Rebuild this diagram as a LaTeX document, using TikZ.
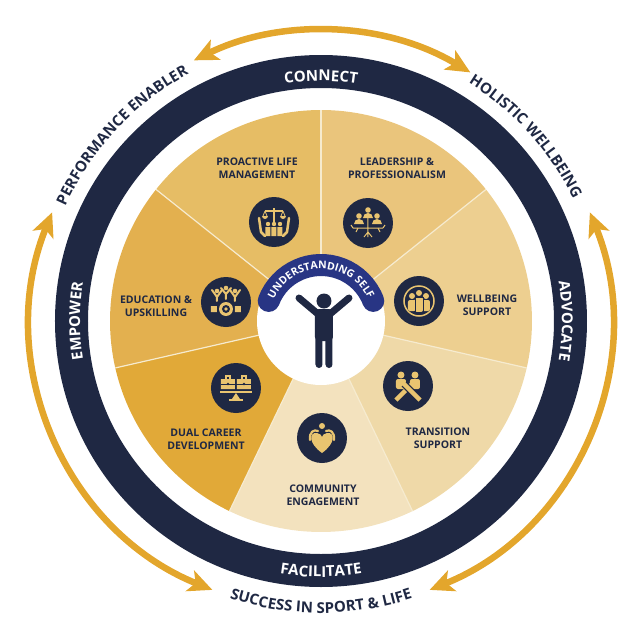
\documentclass[tikz,border=0pt]{standalone}
\usepackage{fontspec}
\setmainfont{Open Sans}
\usetikzlibrary{arrows.meta,decorations.text}
\definecolor{navy}{HTML}{1F2843}
\definecolor{arrowgold}{HTML}{E3A62C}
\definecolor{bandblue}{HTML}{283584}
\definecolor{icongold}{HTML}{E9C470}
\definecolor{sepcream}{HTML}{F6EBCF}
\definecolor{leadC}{HTML}{EAC57C}
\definecolor{wellC}{HTML}{EDCF90}
\definecolor{transC}{HTML}{EFD9A8}
\definecolor{commC}{HTML}{F3E2BE}
\definecolor{dualC}{HTML}{E1A938}
\definecolor{eduC}{HTML}{E3B04F}
\definecolor{proC}{HTML}{E6BD65}
\newcommand\segfont{\fontsize{10.5}{12.5}\selectfont\bfseries}
\newcommand\ringfont{\fontsize{15}{15}\selectfont\bfseries}
\newcommand\bandfont{\fontsize{10.5}{10.5}\selectfont\bfseries}

\begin{document}
\begin{tikzpicture}[x=1pt,y=1pt,
	segtext/.style={text=navy,font=\segfont,align=center,inner sep=0pt},
	icon/.style={circle,fill=navy,minimum size=50pt,inner sep=0pt},
	goldarrow/.style={draw=arrowgold,line width=6.5pt,{Stealth[length=24pt,width=22pt,inset=6pt]}-{Stealth[length=24pt,width=22pt,inset=6pt]}},
	curvetext/.style={decorate,decoration={text along path,text align=center,text color=#1}},
	sepline/.style={draw=sepcream,line width=1.2pt}]

	\useasboundingbox (-321,-301) rectangle (299,321);

	\foreach \c [count=\i from 0] in {leadC,wellC,transC,commC,dualC,eduC,proC} {
		\pgfmathsetmacro\a{90-\i*360/7}
		\fill[\c] (0,0) -- (\a:211pt) arc[start angle=\a,delta angle=-360/7,radius=211pt] -- cycle;
	}
	\foreach \k in {0,...,6}
		\draw[sepline] ({90-\k*360/7}:60pt) -- ({90-\k*360/7}:211pt);

	\draw[navy,line width=33pt] (0,0) circle[radius=249.5pt];

	\draw[goldarrow] (116:290pt) arc[start angle=116,end angle=59,radius=290pt];
	\draw[goldarrow] (158:290pt) arc[start angle=158,end angle=248,radius=290pt];
	\draw[goldarrow] (22:290pt) arc[start angle=22,end angle=-68,radius=290pt];

	\path[curvetext=white,decoration={text={|\ringfont|CONNECT}}] (140:240pt) arc[start angle=140,end angle=40,radius=240pt];
	\path[curvetext=white,decoration={text={|\ringfont|ADVOCATE}}] (50:241pt) arc[start angle=50,end angle=-50,radius=241pt];
	\path[curvetext=white,decoration={text={|\ringfont|FACILITATE}}] (220:256pt) arc[start angle=220,end angle=320,radius=256pt];
	\path[curvetext=white,decoration={text={|\ringfont|EMPOWER}}] (230:241pt) arc[start angle=230,end angle=130,radius=241pt];

	\path[curvetext=navy,decoration={text={|\ringfont|PERFORMANCE ENABLER}}] (180:280pt) arc[start angle=180,end angle=94,radius=280pt];
	\path[curvetext=navy,decoration={text={|\ringfont|HOLISTIC WELLBEING}}] (85:280pt) arc[start angle=85,end angle=-1,radius=280pt];
	\path[curvetext=navy,decoration={text={|\ringfont|SUCCESS IN SPORT {\&} LIFE}}] (225:292pt) arc[start angle=225,end angle=315,radius=292pt];

	\fill[white] (0,0) circle[radius=64pt];
	\draw[bandblue,line width=22pt,line cap=round] (159:56pt) arc[start angle=159,end angle=21,radius=56pt];
	\path[curvetext=white,decoration={text={|\bandfont|UNDERSTANDING SELF}}] (175:52pt) arc[start angle=175,end angle=5,radius=52pt];

	\fill[navy] (3,20) circle[radius=7.5pt];
	\fill[navy,rounded corners=4pt] (-6,12) rectangle (12,-20);
	\draw[navy,line width=7pt,line cap=round] (-3,7) -- (-22,23) (9,7) -- (28,23) (-2,-15) -- (-2,-43.5) (8,-15) -- (8,-43.5);

	\begin{scope}[segtext]
		\node (proactive) at (-64,153) {PROACTIVE LIFE\\MANAGEMENT};
		\node (leadership) at (76,153) {LEADERSHIP \&\\PROFESSIONALISM};
		\node (education) at (-165,15) {EDUCATION \&\\UPSKILLING};
		\node (wellbeing) at (166,16) {WELLBEING\\SUPPORT};
		\node (dualcareer) at (-115,-118) {DUAL CAREER\\DEVELOPMENT};
		\node (transition) at (117,-117) {TRANSITION\\SUPPORT};
		\node (community) at (2,-174) {COMMUNITY\\ENGAGEMENT};
	\end{scope}

	\node[icon] (proicon) at (-47,99) {};
	\node[icon] (leadicon) at (47,98) {};
	\node[icon] (eduicon) at (-95,19) {};
	\node[icon] (wellicon) at (98,20) {};
	\node[icon] (dualicon) at (-85,-67) {};
	\node[icon] (transicon) at (87,-65) {};
	\node[icon] (commicon) at (1,-117) {};

	\begin{scope}[shift={(proicon.center)},icongold]
		\draw[line width=1.2pt] (0,14) -- (0,-1) (-9,11) -- (9,11);
		\draw[line width=0.8pt] (-9,11) -- (-11,6) (-9,11) -- (-7,6) (9,11) -- (7,6) (9,11) -- (11,6);
		\fill (-12,6) arc[start angle=180,end angle=360,radius=3pt] -- cycle;
		\fill (6,6) arc[start angle=180,end angle=360,radius=3pt] -- cycle;
		\fill (-6,-2) circle[radius=2.2pt] (0,-2) circle[radius=2.2pt] (6,-2) circle[radius=2.2pt];
		\fill (-8.5,-5) rectangle (-3.5,-14) (-2.5,-5) rectangle (2.5,-14) (3.5,-5) rectangle (8.5,-14);
		\draw[line width=2.5pt,line cap=round,line join=round] (-15,4) -- (-13,-10) -- (-9,-14) (15,4) -- (13,-10) -- (9,-14);
	\end{scope}

	\begin{scope}[shift={(leadicon.center)},icongold]
		\fill (0,13) circle[radius=2.8pt] (-9,7) circle[radius=2.8pt] (9,7) circle[radius=2.8pt];
		\fill (-5,5) arc[start angle=180,end angle=0,radius=5pt] -- cycle;
		\fill (-14,-1) arc[start angle=180,end angle=0,radius=5pt] -- cycle;
		\fill (4,-1) arc[start angle=180,end angle=0,radius=5pt] -- cycle;
		\draw[line width=1pt] (0,5) -- (0,-14) (-15,-5) -- (15,-5) (-4,-14) -- (0,-9) -- (4,-14);
		\draw[line width=1pt] (-15,-5) -- (-17,-2) (15,-5) -- (17,-2) (-10,-5) -- (-12,-9) (10,-5) -- (12,-9);
	\end{scope}

	\begin{scope}[shift={(eduicon.center)},icongold]
		\fill (-9,11) circle[radius=2.3pt] (0,14) circle[radius=2.3pt] (9,11) circle[radius=2.3pt];
		\draw[line width=2pt,line cap=round] (-14,12) -- (-9,5) -- (-4,12) (-9,5) -- (-9,1) (-5,14) -- (0,8) -- (5,14) (0,8) -- (0,3) (4,12) -- (9,5) -- (14,12) (9,5) -- (9,1);
		\fill (0,-7) circle[radius=7pt];
		\fill[navy] (0,-7) circle[radius=4pt];
		\fill (0,-7) circle[radius=1.8pt];
		\fill (-15,-4) rectangle (-9,-10) (9,-4) rectangle (15,-10);
	\end{scope}

	\begin{scope}[shift={(wellicon.center)},icongold]
		\draw[line width=1.5pt] (0,0) circle[radius=15pt];
		\fill (-7,5) circle[radius=3pt] (0,8) circle[radius=3pt] (7,5) circle[radius=3pt];
		\fill[rounded corners=2pt] (-11,1) rectangle (-3,-10) (-4,4) rectangle (4,-11) (3,1) rectangle (11,-10);
		\draw[navy,line width=0.8pt] (-4,4) rectangle (4,-11);
	\end{scope}

	\begin{scope}[shift={(dualicon.center)},icongold]
		\fill (-15,-1) rectangle (-1,9) (1,-1) rectangle (15,9);
		\draw[line width=1.5pt] (-10,9) -- (-10,12) -- (-6,12) -- (-6,9) (6,9) -- (6,12) -- (10,12) -- (10,9);
		\draw[navy,line width=0.8pt] (-15,4) -- (15,4);
		\fill[navy] (-8,4) circle[radius=1.3pt] (8,4) circle[radius=1.3pt];
		\fill (-16,-3) rectangle (16,-5);
		\fill (0,-5) -- (-4,-11) -- (4,-11) -- cycle;
		\fill (-7,-11) rectangle (7,-13);
	\end{scope}

	\begin{scope}[shift={(transicon.center)},icongold]
		\fill (-7,11) circle[radius=3.5pt] (7,11) circle[radius=3.5pt];
		\fill[rounded corners=2pt] (-12,7) rectangle (-2,-3) (2,7) rectangle (12,-3);
		\draw[line width=4.5pt] (-12,-14) -- (5,3);
		\draw[navy,line width=7pt] (11,-13) -- (-4,2);
		\draw[line width=4.5pt] (12,-14) -- (-5,3);
	\end{scope}

	\begin{scope}[shift={(commicon.center)},icongold]
		\fill (0,-15) .. controls (-14,-5) and (-13,6) .. (-5,5) .. controls (-2,5) and (0,2) .. (0,1) .. controls (0,2) and (2,5) .. (5,5) .. controls (13,6) and (14,-5) .. (0,-15) -- cycle;
		\fill (0,12) circle[radius=3pt];
		\draw[line width=2.2pt,line cap=round] (-4,7) .. controls (-8,9) and (-13,6) .. (-12,-2) (4,7) .. controls (8,9) and (13,6) .. (12,-2);
	\end{scope}

\end{tikzpicture}
\end{document}
